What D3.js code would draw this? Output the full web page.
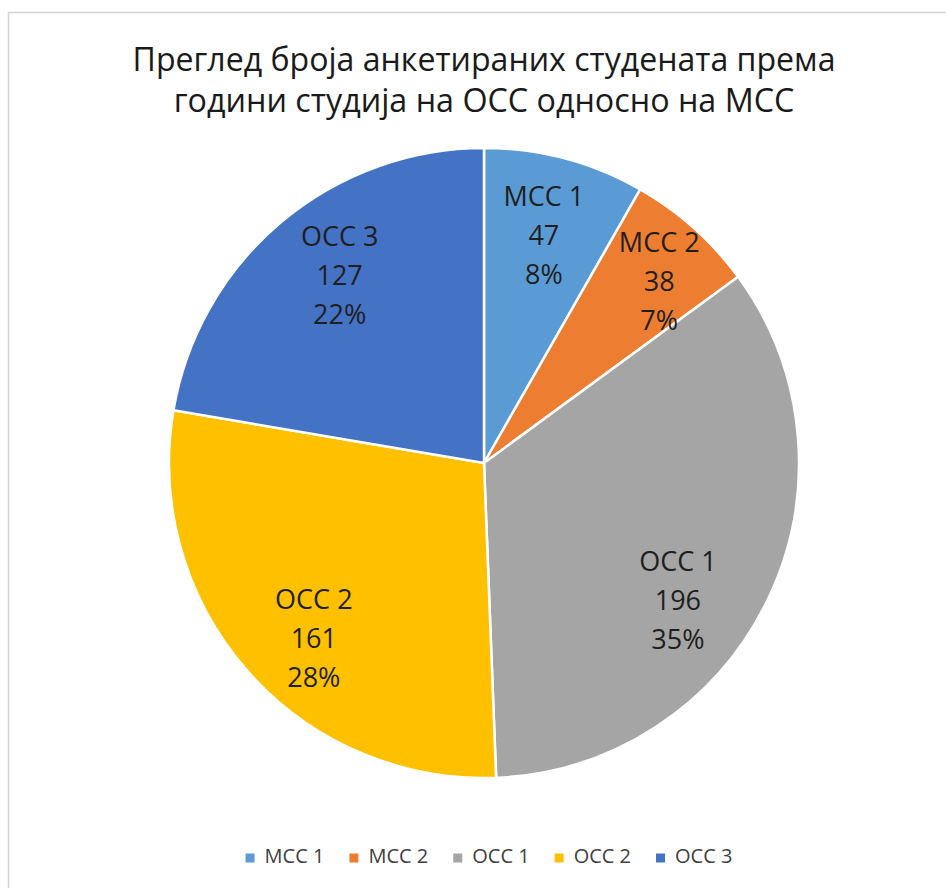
<!DOCTYPE html>
<html>
<head>
<meta charset="utf-8">
<script src="https://cdn.jsdelivr.net/npm/d3@7"></script>
<style>
  html, body { margin: 0; padding: 0; background: #fff; }
  svg { display: block; font-family: "Open Sans", "Noto Sans", sans-serif; }
</style>
</head>
<body>
<svg id="chart"></svg>
<script>
// chart data
const categories = ['МСС 1', 'МСС 2', 'ОСС 1', 'ОСС 2', 'ОСС 3'];
const values = [47, 38, 196, 161, 127];
const percents = ['8%', '7%', '35%', '28%', '22%'];
const colors = ['#5B9BD5', '#ED7D31', '#A5A5A5', '#FFC000', '#4472C4'];
const titleLines = ['Преглед броја анкетираних студената према', 'години студија на ОСС односно на МСС'];

const width = 946, height = 888;
const svg = d3.select('#chart')
    .attr('width', width)
    .attr('height', height);

// chart area border (runs off the right / bottom edge)
svg.append('rect')
    .attr('x', 8.5).attr('y', 12.5)
    .attr('width', 960).attr('height', 900)
    .attr('fill', '#fff')
    .attr('stroke', '#d4d4d4')
    .attr('stroke-width', 1.5);

// title, fitted to the reference line widths
const titleWidths = [703, 621];
const titleY = [62, 103];
titleLines.forEach((line, i) => {
    const t = svg.append('text')
        .attr('x', 484)
        .attr('y', titleY[i])
        .attr('text-anchor', 'middle')
        .attr('dominant-baseline', 'middle')
        .attr('fill', '#1a1a1a')
        .attr('font-size', 28)
        .text(line);
    const w = t.node().getComputedTextLength();
    t.attr('font-size', 28 * titleWidths[i] / w);
});

// pie
const cx = 484, cy = 463, radius = 315;
const data = categories.map((c, i) => ({ name: c, value: values[i], pct: percents[i], color: colors[i] }));

const pie = d3.pie().value(d => d.value).sort(null);
const arc = d3.arc().innerRadius(0).outerRadius(radius);
const labelArc = d3.arc().innerRadius(radius * 0.74).outerRadius(radius * 0.74);

// label nudges (Excel "best fit" moved some labels off the centroid)
const labelNudge = {
    'МСС 2': [20, -5],
    'ОСС 1': [-16, 38],
    'ОСС 2': [5, 24],
    'ОСС 3': [6, -7]
};

const g = svg.append('g').attr('transform', `translate(${cx},${cy})`);
const arcs = pie(data);

g.selectAll('.slice')
    .data(arcs)
    .enter().append('path')
    .attr('class', 'slice')
    .attr('d', arc)
    .attr('fill', d => d.data.color)
    .attr('stroke', '#fff')
    .attr('stroke-width', 2.5);

const lineGap = 39;
const labels = g.selectAll('.label')
    .data(arcs)
    .enter().append('text')
    .attr('class', 'label')
    .attr('transform', d => {
        const [x, y] = labelArc.centroid(d);
        const [nx, ny] = labelNudge[d.data.name] || [0, 0];
        return `translate(${x + nx},${y + ny})`;
    })
    .attr('text-anchor', 'middle')
    .attr('fill', '#1f1f1f')
    .attr('font-size', 27);

labels.each(function (d) {
    const lines = [d.data.name, String(d.data.value), d.data.pct];
    const sel = d3.select(this);
    lines.forEach((l, i) => {
        sel.append('tspan')
            .attr('x', 0)
            .attr('y', (i - 1) * lineGap)
            .attr('dominant-baseline', 'middle')
            .text(l);
    });
});

// legend
const legend = svg.append('g').attr('class', 'legend');
const legendY = 858;
const swatch = 9, swGap = 10, itemGap = 25, legendFont = 20;
let lx = 0;
const items = [];
data.forEach(d => {
    const item = legend.append('g');
    item.append('rect')
        .attr('x', 0).attr('y', legendY - swatch / 2)
        .attr('width', swatch).attr('height', swatch)
        .attr('fill', d.color);
    const t = item.append('text')
        .attr('x', swatch + swGap)
        .attr('y', legendY)
        .attr('dominant-baseline', 'middle')
        .attr('font-size', legendFont)
        .attr('fill', '#404040')
        .text(d.name);
    const w = swatch + swGap + t.node().getComputedTextLength();
    items.push({ item, x: lx });
    lx += w + itemGap;
});
const legendWidth = lx - itemGap;
const legendStart = 489 - legendWidth / 2;
items.forEach(it => it.item.attr('transform', `translate(${legendStart + it.x},0)`));
</script>
</body>
</html>
